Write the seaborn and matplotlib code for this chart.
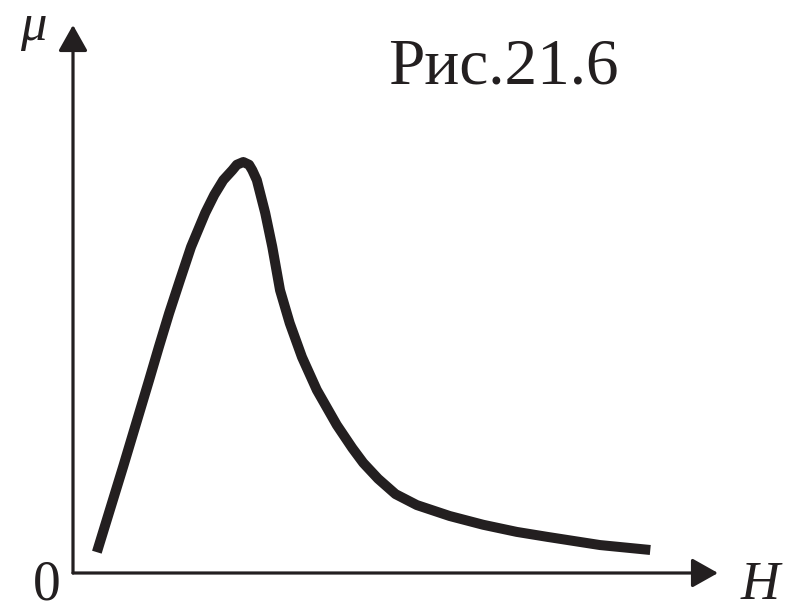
import os
import numpy as np
import pandas as pd
import matplotlib
matplotlib.use('Agg')
import matplotlib.pyplot as plt
from matplotlib import font_manager as fm
import seaborn as sns

# magnetization curve mu(H) (arbitrary units)
H = [0.37, 0.78, 1.18, 1.33, 1.49, 1.66, 1.83, 2.05, 2.19, 2.33, 2.47, 2.54,
     2.64, 2.73, 2.78, 2.85, 2.98, 3.09, 3.21, 3.36, 3.55, 3.78, 4.09, 4.33,
     4.50, 4.73, 5.00, 5.33, 5.84, 6.36, 6.88, 7.35, 8.17, 8.95]
mu = [0.38, 1.95, 3.52, 4.12, 4.74, 5.35, 5.95, 6.57, 6.90, 7.17, 7.35, 7.45,
      7.50, 7.45, 7.35, 7.17, 6.57, 5.95, 5.16, 4.56, 3.94, 3.34, 2.70, 2.28,
      2.01, 1.72, 1.44, 1.24, 1.04, 0.88, 0.75, 0.66, 0.51, 0.42]

title = 'Рис.21.6'
x_label = 'H'
y_label = 'μ'
origin_label = '0'

W, Hpx = 788, 605
INK = '#231f20'


def px(x, y):
    """pixel position -> figure fraction"""
    return x / W, 1 - y / Hpx


def serif_fonts():
    """Liberation Serif regular / italic, picked by file so nothing falls back"""
    reg = fm.findfont('Liberation Serif')
    ital = os.path.join(os.path.dirname(reg), 'LiberationSerif-Italic.ttf')
    if not os.path.exists(ital):
        ital = reg
    return fm.FontProperties(fname=reg), fm.FontProperties(fname=ital)


def main():
    sns.set_theme(style='white')
    plt.rcParams['font.family'] = ['Liberation Serif', 'DejaVu Serif']
    regular, italic = serif_fonts()

    fig = plt.figure(figsize=(W / 100, Hpx / 100), dpi=100)
    fig.patch.set_facecolor('white')
    ax = fig.add_axes([73 / W, (Hpx - 573) / Hpx, (718 - 73) / W, (573 - 25) / Hpx])
    ax.set_facecolor('none')

    df = pd.DataFrame({'H': H, 'mu': mu})
    sns.lineplot(data=df, x='H', y='mu', sort=False, ax=ax, color=INK,
                 linewidth=7.2, solid_capstyle='butt', solid_joinstyle='round')

    ax.set_xlim(0, 10)
    ax.set_ylim(0, 10)
    ax.set_xticks([])
    ax.set_yticks([])
    ax.set_xlabel('')
    ax.set_ylabel('')
    for s in ax.spines.values():
        s.set_visible(False)

    # axes drawn as arrows
    arrow = dict(arrowstyle='-|>,head_length=0.8,head_width=0.45', color=INK,
                 lw=2.3, shrinkA=0, shrinkB=0, mutation_scale=20)
    ax.annotate('', xy=(1, 0), xytext=(0, 0), xycoords='axes fraction',
                arrowprops=arrow, annotation_clip=False)
    ax.annotate('', xy=(0, 1), xytext=(0, 0), xycoords='axes fraction',
                arrowprops=arrow, annotation_clip=False)

    fig.text(*px(33, 40), y_label, ha='center', va='baseline', color=INK,
             fontproperties=italic, fontsize=38)
    fig.text(*px(760, 599), x_label, ha='center', va='baseline', color=INK,
             fontproperties=italic, fontsize=39)
    fig.text(*px(47, 600), origin_label, ha='center', va='baseline', color=INK,
             fontproperties=regular, fontsize=40)
    fig.text(*px(503, 83), title, ha='center', va='baseline', color=INK,
             fontproperties=regular, fontsize=47)

    fig.savefig('out.png', dpi=100)


if __name__ == '__main__':
    main()
